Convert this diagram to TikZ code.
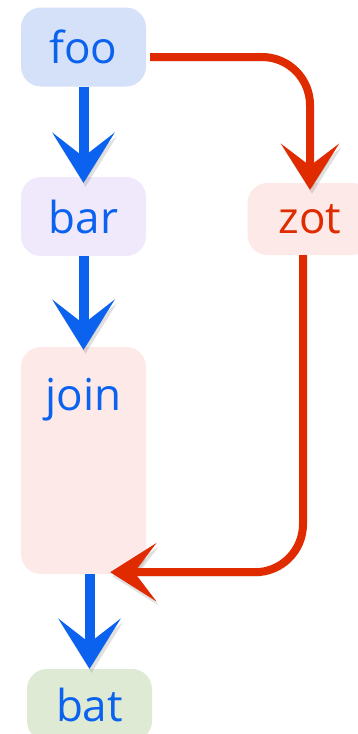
\documentclass[tikz,border=0pt]{standalone}
\usepackage{fontspec}
\setmainfont{Open Sans}
\usetikzlibrary{arrows.meta}
\definecolor{inkblue}{HTML}{0A62EE}
\definecolor{inkred}{HTML}{E02A00}
\definecolor{fooFill}{HTML}{D4E1F8}
\definecolor{barFill}{HTML}{EFE9FB}
\definecolor{pinkFill}{HTML}{FDE9E7}
\definecolor{batFill}{HTML}{DEEAD4}
\tikzset{%
  tipB/.tip={Stealth[length=50pt,width=62pt,inset=24pt]},
  tipR/.tip={Stealth[length=46pt,width=58pt,inset=22pt]},
  box/.style={rounded corners=20pt, minimum width=125pt, minimum height=79pt,
    inner sep=0pt, text=inkblue, font=\fontsize{44}{44}\selectfont},
  shade/.style={preaction={draw=black, opacity=0.12, transform canvas={shift={(2pt,-4pt)}}}},
  blueflow/.style={draw=inkblue, line width=10pt, -tipB, shade},
  redflow/.style={draw=inkred, line width=8pt, rounded corners=48pt, -tipR, shade}
}
\begin{document}
\begin{tikzpicture}[x=1pt,y=-1pt]
\useasboundingbox (0,0) rectangle (358,734);
\begin{scope}
\clip (0,0) rectangle (358,734);
\node[box, fill=fooFill] (foo) at (83.5,47) {foo};
\node[box, fill=barFill] (bar) at (83.5,216.5) {bar};
\node[box, fill=pinkFill, text=inkred, minimum height=72pt] (zot) at (310,219) {zot};
\node[box, fill=pinkFill, minimum height=227pt, text height=63pt, text depth=164pt] (join) at (83.5,460.5) {join};
\node[box, fill=batFill, minimum height=72pt] (bat) at (89.5,705) {bat};
\end{scope}
% flow
\draw[blueflow] (foo.south) -- ([yshift=-6pt]bar.north);
\draw[blueflow] (bar.south) -- ([yshift=-3pt]join.north);
\draw[blueflow] (join.south -| bat.north) -- (bat.north);
% branch
\coordinate (joinin) at ([xshift=-36pt,yshift=2pt]join.south east);
\draw[redflow] ([xshift=4pt,yshift=-10pt]foo.east) -| ([yshift=-7pt]zot.north);
\draw[redflow] ([xshift=-7pt]zot.south) |- (joinin);
\end{tikzpicture}
\end{document}
